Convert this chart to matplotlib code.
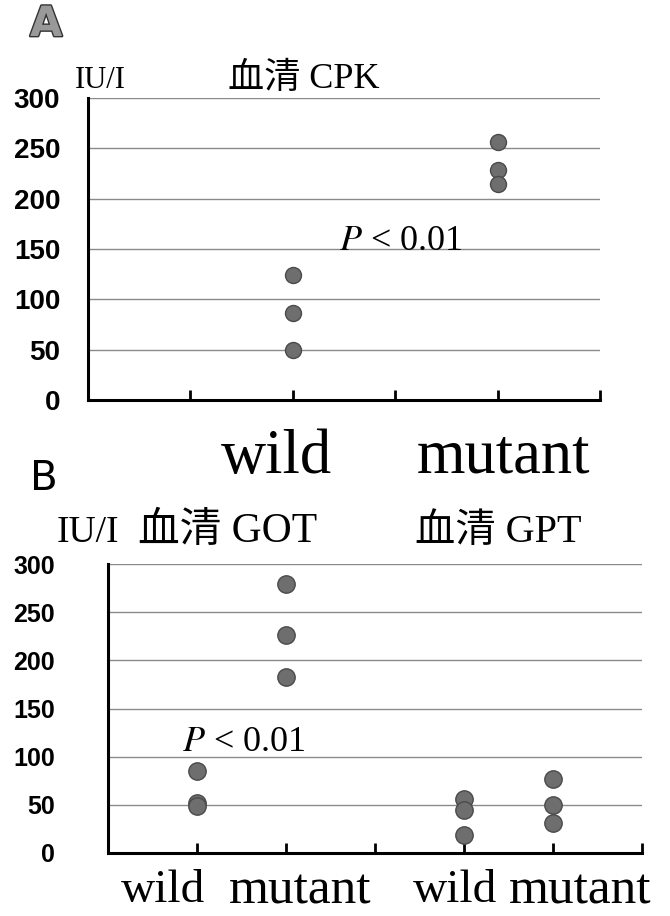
import numpy as np
import matplotlib
matplotlib.use("Agg")
import matplotlib.pyplot as plt
import matplotlib.patheffects as pe
import matplotlib.transforms as mtransforms
from matplotlib.font_manager import FontProperties

# panel A: serum CPK
cpk_groups = ["wild", "mutant"]
cpk_wild = [124, 86, 50]
cpk_mutant = [256, 228, 215]

# panel B: serum GOT / GPT
b_groups = ["wild", "mutant", "wild", "mutant"]
got_wild = [85, 52, 49]
got_mutant = [279, 226, 183]
gpt_wild = [56, 45, 19]
gpt_mutant = [77, 50, 31]

y_ticks = [0, 50, 100, 150, 200, 250, 300]

W, H = 670, 916
SERIF = ["Liberation Serif", "Noto Sans CJK JP"]
TICKFONT = dict(family=["Liberation Sans"], weight="bold")
plt.rcParams["mathtext.fontset"] = "stix"


def box(l, t, r, b):
    return [l / W, 1 - b / H, (r - l) / W, (b - t) / H]


def style(ax, xmax, ypad, ysize):
    ax.set_xlim(0, xmax)
    ax.set_ylim(0, 300)
    ax.set_yticks(y_ticks)
    ax.yaxis.grid(True, color="#8a8a8a", lw=1.0)
    ax.set_axisbelow(True)
    for s in ("top", "right"):
        ax.spines[s].set_visible(False)
    for s in ("left", "bottom"):
        ax.spines[s].set_linewidth(2.2)
    ax.set_xticks(np.arange(1, xmax + 1))
    ax.set_xticklabels([])
    ax.tick_params(axis="x", direction="in", length=7, width=2)
    ax.tick_params(axis="y", length=0, pad=ypad)
    for lab in ax.get_yticklabels():
        lab.set_fontproperties(FontProperties(size=ysize, **TICKFONT))


def group_labels(ax, xs, names, sizes, y_px):
    # labels sit a little off the ticks in the original, so place them as text
    tr = mtransforms.blended_transform_factory(ax.transData, fig.transFigure)
    for x, name, yp in zip(xs, names, y_px):
        ax.text(x, 1 - yp / H, name, transform=tr, ha="center", va="baseline",
                family=SERIF, fontsize=sizes[name])


def dots(ax, x, vals, ms):
    ax.plot([x] * len(vals), vals, "o", ms=ms, color="#6e6e6e",
            mec="#4a4a4a", mew=1.0, zorder=3, clip_on=False)


fig = plt.figure(figsize=(W / 100, H / 100), dpi=100)

# ---- A ----
axA = fig.add_axes(box(88, 98, 600, 400))
dots(axA, 2, cpk_wild, 11.5)
dots(axA, 4, cpk_mutant, 11.5)
style(axA, 5, 20, 20)
group_labels(axA, [1.84, 4.06], cpk_groups, {"wild": 45, "mutant": 45}, [473, 473])
axA.text(2.45, 149, "$P$ < 0.01", family=SERIF, fontsize=26)

fig.text(30 / W, 1 - 36 / H, "A", fontsize=30, weight="bold", color="#999999",
         family="DejaVu Sans",
         path_effects=[pe.withStroke(linewidth=2, foreground="#333333")])
fig.text(75 / W, 1 - 88 / H, "IU/I", family=SERIF, fontsize=22)
fig.text(228 / W, 1 - 88 / H, "血清 CPK", family=SERIF, fontsize=26)

# ---- B ----
axB = fig.add_axes(box(108, 564, 642, 853))
dots(axB, 1, got_wild, 12.5)
dots(axB, 2, got_mutant, 12.5)
dots(axB, 4, gpt_wild, 12.5)
dots(axB, 5, gpt_mutant, 12.5)
style(axB, 6, 38, 18)
group_labels(axB, [0.62, 2.16, 3.9, 5.3], b_groups, {"wild": 34, "mutant": 37},
             [902, 903, 902, 903])
axB.text(0.83, 106, "$P$ < 0.01", family=SERIF, fontsize=26)

fig.text(30 / W, 1 - 490 / H, "B", fontsize=29, family="DejaVu Sans")
fig.text(57 / W, 1 - 542 / H, "IU/I", family=SERIF, fontsize=27)
fig.text(138 / W, 1 - 542 / H, "血清 GOT", family=SERIF, fontsize=30)
fig.text(415 / W, 1 - 542 / H, "血清 GPT", family=SERIF, fontsize=29)

fig.savefig("out.png", dpi=100)
